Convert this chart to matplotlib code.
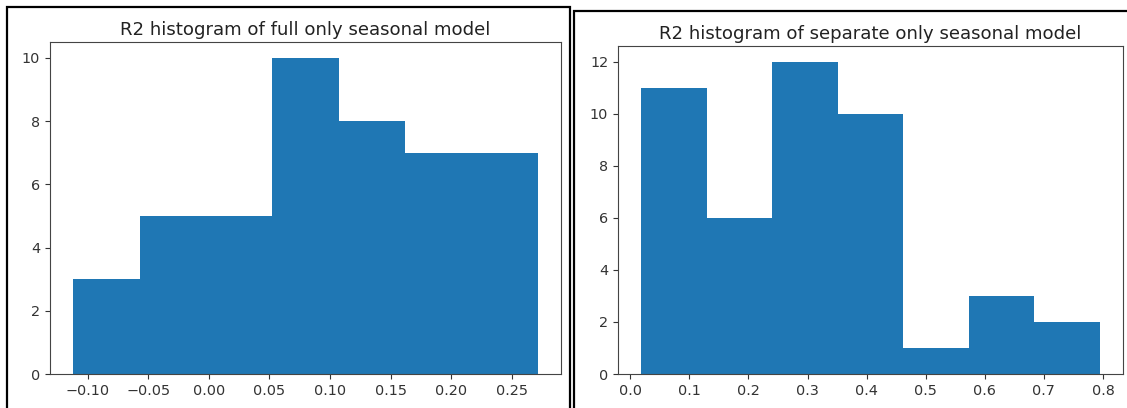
import matplotlib
matplotlib.use("Agg")
import matplotlib.pyplot as plt
from matplotlib.patches import Rectangle
import numpy as np

# Bin edges and counts of R2 scores for the two seasonal models
full_edges = [-0.1120, -0.0572, -0.0024, 0.0524, 0.1072, 0.1620, 0.2168, 0.2716]
full_counts = [3, 5, 5, 10, 8, 7, 7]

sep_edges = [0.018, 0.129, 0.240, 0.351, 0.462, 0.573, 0.684, 0.795]
sep_counts = [11, 6, 12, 10, 1, 3, 2]

titles = ["R2 histogram of full only seasonal model",
          "R2 histogram of separate only seasonal model"]

W, H = 1127, 408
fig = plt.figure(figsize=(W / 100, H / 100), dpi=100)
fig.patch.set_facecolor("white")


def px_axes(x0, x1, ytop, ybot):
    return fig.add_axes([x0 / W, (H - ybot) / H, (x1 - x0) / W, (ybot - ytop) / H])


ax1 = px_axes(50, 561, 42, 374)
ax2 = px_axes(618, 1123, 46, 374)

for ax, edges, counts, title in [(ax1, full_edges, full_counts, titles[0]),
                                 (ax2, sep_edges, sep_counts, titles[1])]:
    edges = np.asarray(edges)
    ax.hist(edges[:-1], bins=edges, weights=counts, color="#1f77b4")
    ax.set_title(title, fontsize=13.1, color="#222222", pad=5)
    ax.tick_params(labelsize=10.4, colors="#333333")
    for sp in ax.spines.values():
        sp.set_color("#444444")

ax1.set_xticks([-0.10, -0.05, 0.00, 0.05, 0.10, 0.15, 0.20, 0.25])
ax1.set_xticklabels(["\u22120.10", "\u22120.05", "0.00", "0.05", "0.10", "0.15", "0.20", "0.25"])
ax1.set_yticks([0, 2, 4, 6, 8, 10])
ax2.set_xticks([0.0, 0.1, 0.2, 0.3, 0.4, 0.5, 0.6, 0.7, 0.8])
ax2.set_yticks([0, 2, 4, 6, 8, 10, 12])

# Frames around each panel
fig.add_artist(Rectangle((7 / W, -0.05), (570 - 7) / W, (H - 7) / H + 0.05,
                         transform=fig.transFigure, fill=False, lw=1.6, ec="black"))
fig.add_artist(Rectangle((574 / W, -0.05), (1140 - 574) / W, (H - 11) / H + 0.05,
                         transform=fig.transFigure, fill=False, lw=1.6, ec="black"))

fig.savefig("out.png", dpi=100, facecolor="white")
